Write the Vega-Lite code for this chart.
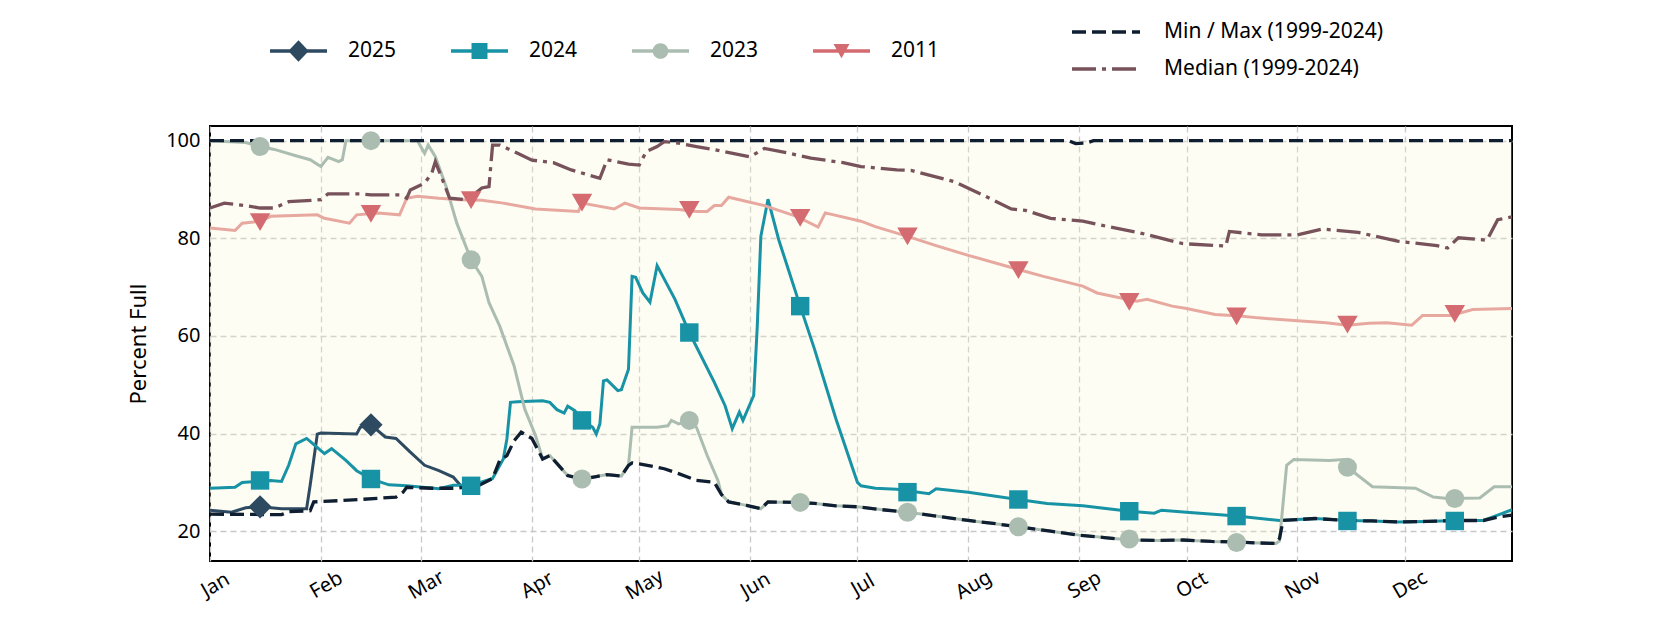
{
  "$schema": "https://vega.github.io/schema/vega-lite/v6.json",
  "width": 1302,
  "height": 435,
  "autosize": {"type": "none"},
  "padding": {"left": 210, "top": 126, "right": 168, "bottom": 69},
  "background": "white",
  "config": {
    "font": "Noto Sans",
    "view": {"stroke": "black", "strokeWidth": 2},
    "axis": {
      "grid": true, "gridColor": "#c8c8c8", "gridDash": [6, 4], "gridWidth": 1.3,
      "domain": false, "ticks": false,
      "labelFont": "Noto Sans", "labelFontSize": 20, "labelColor": "black",
      "titleFont": "Noto Sans", "titleFontSize": 22, "titleFontWeight": "normal", "titleColor": "black"
    },
    "legend": {"labelFont": "Noto Sans", "labelFontSize": 21, "labelColor": "black", "labelLimit": 500, "padding": 0}
  },
  "datasets": {
    "lines": [
      {"series":"2025","date":"2023-01-01","value":24.3},{"series":"2025","date":"2023-01-07","value":23.9},{"series":"2025","date":"2023-01-11","value":24.8},{"series":"2025","date":"2023-01-15","value":25.0},{"series":"2025","date":"2023-01-21","value":24.6},{"series":"2025","date":"2023-01-28","value":24.6},{"series":"2025","date":"2023-01-29","value":29.4},{"series":"2025","date":"2023-01-31","value":39.9},{"series":"2025","date":"2023-02-01","value":40.1},{"series":"2025","date":"2023-02-11","value":39.9},{"series":"2025","date":"2023-02-12","value":41.3},{"series":"2025","date":"2023-02-15","value":41.8},{"series":"2025","date":"2023-02-19","value":39.3},{"series":"2025","date":"2023-02-22","value":39.0},{"series":"2025","date":"2023-02-26","value":36.2},{"series":"2025","date":"2023-03-02","value":33.5},{"series":"2025","date":"2023-03-06","value":32.4},{"series":"2025","date":"2023-03-10","value":31.1},{"series":"2025","date":"2023-03-12","value":29.4},

      {"series":"2024","date":"2023-01-01","value":28.8},{"series":"2024","date":"2023-01-08","value":29.0},{"series":"2024","date":"2023-01-10","value":30.0},{"series":"2024","date":"2023-01-18","value":30.4},{"series":"2024","date":"2023-01-21","value":30.2},{"series":"2024","date":"2023-01-23","value":33.5},{"series":"2024","date":"2023-01-25","value":37.9},{"series":"2024","date":"2023-01-28","value":39.0},{"series":"2024","date":"2023-01-29","value":38.4},{"series":"2024","date":"2023-02-01","value":36.5},{"series":"2024","date":"2023-02-02","value":35.9},{"series":"2024","date":"2023-02-04","value":36.9},{"series":"2024","date":"2023-02-08","value":34.5},{"series":"2024","date":"2023-02-11","value":32.4},{"series":"2024","date":"2023-02-15","value":30.7},{"series":"2024","date":"2023-02-20","value":29.5},{"series":"2024","date":"2023-02-25","value":29.3},{"series":"2024","date":"2023-03-06","value":28.7},{"series":"2024","date":"2023-03-10","value":29.4},{"series":"2024","date":"2023-03-15","value":29.4},{"series":"2024","date":"2023-03-21","value":30.8},{"series":"2024","date":"2023-03-24","value":34.8},{"series":"2024","date":"2023-03-25","value":38.9},{"series":"2024","date":"2023-03-26","value":46.4},{"series":"2024","date":"2023-03-28","value":46.5},{"series":"2024","date":"2023-04-04","value":46.7},{"series":"2024","date":"2023-04-06","value":46.4},{"series":"2024","date":"2023-04-08","value":44.9},{"series":"2024","date":"2023-04-10","value":44.2},{"series":"2024","date":"2023-04-11","value":45.6},{"series":"2024","date":"2023-04-13","value":44.7},{"series":"2024","date":"2023-04-15","value":42.7},{"series":"2024","date":"2023-04-18","value":41.3},{"series":"2024","date":"2023-04-19","value":39.9},{"series":"2024","date":"2023-04-20","value":42.0},{"series":"2024","date":"2023-04-21","value":50.8},{"series":"2024","date":"2023-04-22","value":51.0},{"series":"2024","date":"2023-04-25","value":48.8},{"series":"2024","date":"2023-04-26","value":49.0},{"series":"2024","date":"2023-04-28","value":53.2},{"series":"2024","date":"2023-04-29","value":72.2},{"series":"2024","date":"2023-04-30","value":72.0},{"series":"2024","date":"2023-05-02","value":68.8},{"series":"2024","date":"2023-05-04","value":66.9},{"series":"2024","date":"2023-05-06","value":74.4},{"series":"2024","date":"2023-05-11","value":67.5},{"series":"2024","date":"2023-05-15","value":60.7},{"series":"2024","date":"2023-05-22","value":50.5},{"series":"2024","date":"2023-05-25","value":45.7},{"series":"2024","date":"2023-05-27","value":41.0},{"series":"2024","date":"2023-05-29","value":44.4},{"series":"2024","date":"2023-05-30","value":42.7},{"series":"2024","date":"2023-06-02","value":47.8},{"series":"2024","date":"2023-06-03","value":62.0},{"series":"2024","date":"2023-06-04","value":80.4},{"series":"2024","date":"2023-06-06","value":88.0},{"series":"2024","date":"2023-06-09","value":79.7},{"series":"2024","date":"2023-06-15","value":66.1},{"series":"2024","date":"2023-06-19","value":57.3},{"series":"2024","date":"2023-06-25","value":43.0},{"series":"2024","date":"2023-07-01","value":30.0},{"series":"2024","date":"2023-07-02","value":29.3},{"series":"2024","date":"2023-07-06","value":28.8},{"series":"2024","date":"2023-07-12","value":28.6},{"series":"2024","date":"2023-07-21","value":27.7},{"series":"2024","date":"2023-07-23","value":28.7},{"series":"2024","date":"2023-08-01","value":28.0},{"series":"2024","date":"2023-08-15","value":26.5},{"series":"2024","date":"2023-08-23","value":25.7},{"series":"2024","date":"2023-09-02","value":25.2},{"series":"2024","date":"2023-09-15","value":24.1},{"series":"2024","date":"2023-09-22","value":23.7},{"series":"2024","date":"2023-09-24","value":24.3},{"series":"2024","date":"2023-10-01","value":23.9},{"series":"2024","date":"2023-10-15","value":23.1},{"series":"2024","date":"2023-10-27","value":22.2},{"series":"2024","date":"2023-11-06","value":22.6},{"series":"2024","date":"2023-11-15","value":22.2},{"series":"2024","date":"2023-11-22","value":22.1},{"series":"2024","date":"2023-11-29","value":21.9},{"series":"2024","date":"2023-12-07","value":22.0},{"series":"2024","date":"2023-12-15","value":22.2},{"series":"2024","date":"2023-12-23","value":22.2},{"series":"2024","date":"2023-12-27","value":23.3},{"series":"2024","date":"2023-12-31","value":24.4},

      {"series":"2023","date":"2023-01-01","value":100},{"series":"2023","date":"2023-01-11","value":99.6},{"series":"2023","date":"2023-01-15","value":98.8},{"series":"2023","date":"2023-01-19","value":98.2},{"series":"2023","date":"2023-01-25","value":96.9},{"series":"2023","date":"2023-01-29","value":96.1},{"series":"2023","date":"2023-02-01","value":94.7},{"series":"2023","date":"2023-02-03","value":96.6},{"series":"2023","date":"2023-02-06","value":95.7},{"series":"2023","date":"2023-02-07","value":96.1},{"series":"2023","date":"2023-02-08","value":100},{"series":"2023","date":"2023-02-28","value":100},{"series":"2023","date":"2023-03-02","value":97.4},{"series":"2023","date":"2023-03-03","value":99.1},{"series":"2023","date":"2023-03-05","value":96.7},{"series":"2023","date":"2023-03-08","value":90.6},{"series":"2023","date":"2023-03-11","value":83.1},{"series":"2023","date":"2023-03-15","value":75.6},{"series":"2023","date":"2023-03-18","value":72.2},{"series":"2023","date":"2023-03-20","value":66.8},{"series":"2023","date":"2023-03-23","value":62.0},{"series":"2023","date":"2023-03-27","value":53.9},{"series":"2023","date":"2023-03-30","value":45.0},{"series":"2023","date":"2023-04-02","value":39.6},{"series":"2023","date":"2023-04-04","value":34.8},{"series":"2023","date":"2023-04-06","value":35.5},{"series":"2023","date":"2023-04-11","value":31.4},{"series":"2023","date":"2023-04-15","value":30.7},{"series":"2023","date":"2023-04-19","value":31.2},{"series":"2023","date":"2023-04-22","value":31.6},{"series":"2023","date":"2023-04-26","value":31.3},{"series":"2023","date":"2023-04-28","value":33.5},{"series":"2023","date":"2023-04-29","value":41.3},{"series":"2023","date":"2023-05-06","value":41.3},{"series":"2023","date":"2023-05-09","value":41.6},{"series":"2023","date":"2023-05-10","value":42.7},{"series":"2023","date":"2023-05-12","value":42.0},{"series":"2023","date":"2023-05-15","value":42.7},{"series":"2023","date":"2023-05-17","value":41.3},{"series":"2023","date":"2023-05-20","value":35.5},{"series":"2023","date":"2023-05-23","value":30.4},{"series":"2023","date":"2023-05-24","value":27.5},{"series":"2023","date":"2023-05-26","value":26.0},{"series":"2023","date":"2023-05-31","value":25.3},{"series":"2023","date":"2023-06-04","value":24.6},{"series":"2023","date":"2023-06-06","value":26.0},{"series":"2023","date":"2023-06-14","value":25.9},{"series":"2023","date":"2023-06-19","value":25.7},{"series":"2023","date":"2023-06-25","value":25.2},{"series":"2023","date":"2023-07-01","value":25.0},{"series":"2023","date":"2023-07-08","value":24.4},{"series":"2023","date":"2023-07-15","value":23.9},{"series":"2023","date":"2023-07-23","value":23.1},{"series":"2023","date":"2023-08-01","value":22.2},{"series":"2023","date":"2023-08-08","value":21.6},{"series":"2023","date":"2023-08-15","value":20.9},{"series":"2023","date":"2023-08-24","value":20.0},{"series":"2023","date":"2023-09-01","value":19.2},{"series":"2023","date":"2023-09-08","value":18.7},{"series":"2023","date":"2023-09-15","value":18.2},{"series":"2023","date":"2023-09-23","value":18.1},{"series":"2023","date":"2023-09-30","value":18.2},{"series":"2023","date":"2023-10-08","value":17.9},{"series":"2023","date":"2023-10-15","value":17.8},{"series":"2023","date":"2023-10-21","value":17.6},{"series":"2023","date":"2023-10-26","value":17.5},{"series":"2023","date":"2023-10-27","value":18.0},{"series":"2023","date":"2023-10-29","value":33.5},{"series":"2023","date":"2023-10-31","value":34.7},{"series":"2023","date":"2023-11-10","value":34.5},{"series":"2023","date":"2023-11-14","value":34.7},{"series":"2023","date":"2023-11-15","value":33.1},{"series":"2023","date":"2023-11-22","value":29.1},{"series":"2023","date":"2023-12-04","value":28.8},{"series":"2023","date":"2023-12-09","value":27.0},{"series":"2023","date":"2023-12-13","value":26.7},{"series":"2023","date":"2023-12-22","value":26.8},{"series":"2023","date":"2023-12-26","value":29.1},{"series":"2023","date":"2023-12-31","value":29.1},

      {"series":"2011","date":"2023-01-01","value":82.1},{"series":"2011","date":"2023-01-08","value":81.6},{"series":"2011","date":"2023-01-10","value":83.1},{"series":"2011","date":"2023-01-15","value":83.5},{"series":"2011","date":"2023-01-18","value":84.5},{"series":"2011","date":"2023-01-31","value":84.8},{"series":"2011","date":"2023-02-02","value":84.1},{"series":"2011","date":"2023-02-09","value":83.1},{"series":"2011","date":"2023-02-11","value":84.8},{"series":"2011","date":"2023-02-17","value":85.2},{"series":"2011","date":"2023-02-23","value":84.8},{"series":"2011","date":"2023-02-25","value":88.2},{"series":"2011","date":"2023-02-28","value":88.6},{"series":"2011","date":"2023-03-06","value":88.2},{"series":"2011","date":"2023-03-12","value":87.9},{"series":"2011","date":"2023-03-18","value":87.8},{"series":"2011","date":"2023-03-24","value":87.2},{"series":"2011","date":"2023-04-02","value":86.0},{"series":"2011","date":"2023-04-14","value":85.5},{"series":"2011","date":"2023-04-15","value":87.2},{"series":"2011","date":"2023-04-24","value":86.0},{"series":"2011","date":"2023-04-27","value":87.2},{"series":"2011","date":"2023-05-01","value":86.2},{"series":"2011","date":"2023-05-12","value":85.9},{"series":"2011","date":"2023-05-17","value":85.5},{"series":"2011","date":"2023-05-20","value":85.5},{"series":"2011","date":"2023-05-22","value":86.7},{"series":"2011","date":"2023-05-24","value":86.7},{"series":"2011","date":"2023-05-26","value":88.4},{"series":"2011","date":"2023-06-05","value":86.7},{"series":"2011","date":"2023-06-14","value":84.5},{"series":"2011","date":"2023-06-20","value":82.3},{"series":"2011","date":"2023-06-22","value":85.2},{"series":"2011","date":"2023-07-02","value":83.5},{"series":"2011","date":"2023-07-06","value":82.4},{"series":"2011","date":"2023-07-15","value":80.4},{"series":"2011","date":"2023-07-23","value":78.5},{"series":"2011","date":"2023-08-01","value":76.5},{"series":"2011","date":"2023-08-15","value":73.6},{"series":"2011","date":"2023-08-22","value":72.2},{"series":"2011","date":"2023-09-02","value":70.2},{"series":"2011","date":"2023-09-06","value":68.8},{"series":"2011","date":"2023-09-17","value":67.1},{"series":"2011","date":"2023-09-20","value":67.5},{"series":"2011","date":"2023-09-27","value":66.1},{"series":"2011","date":"2023-10-01","value":65.6},{"series":"2011","date":"2023-10-09","value":64.4},{"series":"2011","date":"2023-10-16","value":64.1},{"series":"2011","date":"2023-10-21","value":63.7},{"series":"2011","date":"2023-11-01","value":63.1},{"series":"2011","date":"2023-11-09","value":62.7},{"series":"2011","date":"2023-11-15","value":62.2},{"series":"2011","date":"2023-11-21","value":62.6},{"series":"2011","date":"2023-11-26","value":62.7},{"series":"2011","date":"2023-12-03","value":62.2},{"series":"2011","date":"2023-12-06","value":64.2},{"series":"2011","date":"2023-12-14","value":64.2},{"series":"2011","date":"2023-12-20","value":65.4},{"series":"2011","date":"2023-12-31","value":65.6},

      {"series":"Min","date":"2023-01-01","value":23.5},{"series":"Min","date":"2023-01-21","value":23.4},{"series":"Min","date":"2023-01-23","value":24.0},{"series":"Min","date":"2023-01-29","value":24.2},{"series":"Min","date":"2023-01-30","value":26.0},{"series":"Min","date":"2023-02-10","value":26.4},{"series":"Min","date":"2023-02-22","value":27.0},{"series":"Min","date":"2023-02-24","value":28.0},{"series":"Min","date":"2023-02-25","value":29.0},{"series":"Min","date":"2023-03-04","value":28.8},{"series":"Min","date":"2023-03-11","value":28.8},{"series":"Min","date":"2023-03-17","value":29.3},{"series":"Min","date":"2023-03-21","value":30.8},{"series":"Min","date":"2023-03-23","value":34.5},{"series":"Min","date":"2023-03-25","value":35.5},{"series":"Min","date":"2023-03-27","value":38.5},{"series":"Min","date":"2023-03-29","value":40.3},{"series":"Min","date":"2023-04-01","value":39.0},{"series":"Min","date":"2023-04-04","value":34.8},{"series":"Min","date":"2023-04-06","value":35.5},{"series":"Min","date":"2023-04-11","value":31.4},{"series":"Min","date":"2023-04-15","value":30.7},{"series":"Min","date":"2023-04-19","value":31.2},{"series":"Min","date":"2023-04-22","value":31.6},{"series":"Min","date":"2023-04-26","value":31.3},{"series":"Min","date":"2023-04-28","value":33.5},{"series":"Min","date":"2023-04-29","value":34.0},{"series":"Min","date":"2023-05-01","value":33.8},{"series":"Min","date":"2023-05-08","value":32.8},{"series":"Min","date":"2023-05-12","value":31.8},{"series":"Min","date":"2023-05-17","value":30.4},{"series":"Min","date":"2023-05-22","value":30.0},{"series":"Min","date":"2023-05-24","value":27.5},{"series":"Min","date":"2023-05-26","value":26.0},{"series":"Min","date":"2023-05-31","value":25.3},{"series":"Min","date":"2023-06-04","value":24.6},{"series":"Min","date":"2023-06-06","value":26.0},{"series":"Min","date":"2023-06-14","value":25.9},{"series":"Min","date":"2023-06-19","value":25.7},{"series":"Min","date":"2023-06-25","value":25.2},{"series":"Min","date":"2023-07-01","value":25.0},{"series":"Min","date":"2023-07-08","value":24.4},{"series":"Min","date":"2023-07-15","value":23.9},{"series":"Min","date":"2023-07-23","value":23.1},{"series":"Min","date":"2023-08-01","value":22.2},{"series":"Min","date":"2023-08-08","value":21.6},{"series":"Min","date":"2023-08-15","value":20.9},{"series":"Min","date":"2023-08-24","value":20.0},{"series":"Min","date":"2023-09-01","value":19.2},{"series":"Min","date":"2023-09-08","value":18.7},{"series":"Min","date":"2023-09-15","value":18.2},{"series":"Min","date":"2023-09-23","value":18.1},{"series":"Min","date":"2023-09-30","value":18.2},{"series":"Min","date":"2023-10-08","value":17.9},{"series":"Min","date":"2023-10-15","value":17.8},{"series":"Min","date":"2023-10-21","value":17.6},{"series":"Min","date":"2023-10-26","value":17.5},{"series":"Min","date":"2023-10-27","value":18.5},{"series":"Min","date":"2023-10-28","value":22.2},{"series":"Min","date":"2023-11-06","value":22.6},{"series":"Min","date":"2023-11-15","value":22.2},{"series":"Min","date":"2023-11-22","value":22.1},{"series":"Min","date":"2023-11-29","value":21.9},{"series":"Min","date":"2023-12-07","value":22.0},{"series":"Min","date":"2023-12-15","value":22.2},{"series":"Min","date":"2023-12-23","value":22.2},{"series":"Min","date":"2023-12-27","value":22.9},{"series":"Min","date":"2023-12-31","value":23.3},

      {"series":"Max","date":"2023-01-01","value":100},{"series":"Max","date":"2023-08-29","value":100},{"series":"Max","date":"2023-08-31","value":99.4},{"series":"Max","date":"2023-09-03","value":99.5},{"series":"Max","date":"2023-09-05","value":100},{"series":"Max","date":"2023-12-31","value":100},

      {"series":"Median","date":"2023-01-01","value":86.2},{"series":"Median","date":"2023-01-05","value":87.2},{"series":"Median","date":"2023-01-11","value":86.7},{"series":"Median","date":"2023-01-15","value":86.2},{"series":"Median","date":"2023-01-19","value":86.2},{"series":"Median","date":"2023-01-23","value":87.5},{"series":"Median","date":"2023-02-01","value":87.9},{"series":"Median","date":"2023-02-03","value":89.1},{"series":"Median","date":"2023-02-12","value":89.1},{"series":"Median","date":"2023-02-15","value":88.9},{"series":"Median","date":"2023-02-23","value":88.9},{"series":"Median","date":"2023-02-25","value":88.2},{"series":"Median","date":"2023-02-26","value":89.9},{"series":"Median","date":"2023-03-02","value":91.3},{"series":"Median","date":"2023-03-04","value":93.3},{"series":"Median","date":"2023-03-05","value":95.7},{"series":"Median","date":"2023-03-07","value":92.0},{"series":"Median","date":"2023-03-09","value":88.2},{"series":"Median","date":"2023-03-14","value":87.9},{"series":"Median","date":"2023-03-18","value":90.3},{"series":"Median","date":"2023-03-20","value":90.6},{"series":"Median","date":"2023-03-21","value":99.1},{"series":"Median","date":"2023-03-23","value":99.1},{"series":"Median","date":"2023-03-28","value":97.4},{"series":"Median","date":"2023-04-01","value":96.0},{"series":"Median","date":"2023-04-07","value":95.5},{"series":"Median","date":"2023-04-12","value":94.0},{"series":"Median","date":"2023-04-20","value":92.3},{"series":"Median","date":"2023-04-22","value":96.1},{"series":"Median","date":"2023-04-28","value":95.2},{"series":"Median","date":"2023-05-01","value":95.0},{"series":"Median","date":"2023-05-03","value":97.8},{"series":"Median","date":"2023-05-06","value":98.8},{"series":"Median","date":"2023-05-08","value":99.8},{"series":"Median","date":"2023-05-12","value":99.5},{"series":"Median","date":"2023-05-17","value":98.8},{"series":"Median","date":"2023-05-23","value":98.0},{"series":"Median","date":"2023-06-01","value":96.7},{"series":"Median","date":"2023-06-05","value":98.4},{"series":"Median","date":"2023-06-12","value":97.4},{"series":"Median","date":"2023-06-18","value":96.4},{"series":"Median","date":"2023-06-27","value":95.5},{"series":"Median","date":"2023-07-02","value":94.7},{"series":"Median","date":"2023-07-12","value":94.0},{"series":"Median","date":"2023-07-16","value":93.9},{"series":"Median","date":"2023-07-28","value":91.6},{"series":"Median","date":"2023-08-05","value":88.9},{"series":"Median","date":"2023-08-13","value":86.0},{"series":"Median","date":"2023-08-17","value":85.7},{"series":"Median","date":"2023-08-24","value":84.1},{"series":"Median","date":"2023-09-02","value":83.5},{"series":"Median","date":"2023-09-09","value":82.4},{"series":"Median","date":"2023-09-18","value":81.1},{"series":"Median","date":"2023-09-30","value":78.9},{"series":"Median","date":"2023-10-12","value":78.4},{"series":"Median","date":"2023-10-13","value":81.4},{"series":"Median","date":"2023-10-22","value":80.7},{"series":"Median","date":"2023-11-01","value":80.7},{"series":"Median","date":"2023-11-08","value":81.9},{"series":"Median","date":"2023-11-18","value":81.2},{"series":"Median","date":"2023-11-29","value":79.4},{"series":"Median","date":"2023-12-10","value":78.5},{"series":"Median","date":"2023-12-13","value":78.0},{"series":"Median","date":"2023-12-16","value":80.1},{"series":"Median","date":"2023-12-24","value":79.6},{"series":"Median","date":"2023-12-27","value":83.8},{"series":"Median","date":"2023-12-31","value":84.4}
    ],
    "markers": [
      {"series":"2025","date":"2023-01-15","value":25.0},{"series":"2025","date":"2023-02-15","value":41.8},
      {"series":"2024","date":"2023-01-15","value":30.4},{"series":"2024","date":"2023-02-15","value":30.7},{"series":"2024","date":"2023-03-15","value":29.3},{"series":"2024","date":"2023-04-15","value":42.7},{"series":"2024","date":"2023-05-15","value":60.7},{"series":"2024","date":"2023-06-15","value":66.1},{"series":"2024","date":"2023-07-15","value":28.0},{"series":"2024","date":"2023-08-15","value":26.5},{"series":"2024","date":"2023-09-15","value":24.1},{"series":"2024","date":"2023-10-15","value":23.1},{"series":"2024","date":"2023-11-15","value":22.1},{"series":"2024","date":"2023-12-15","value":22.1},
      {"series":"2023","date":"2023-01-15","value":98.8},{"series":"2023","date":"2023-02-15","value":100},{"series":"2023","date":"2023-03-15","value":75.6},{"series":"2023","date":"2023-04-15","value":30.7},{"series":"2023","date":"2023-05-15","value":42.7},{"series":"2023","date":"2023-06-15","value":25.9},{"series":"2023","date":"2023-07-15","value":23.9},{"series":"2023","date":"2023-08-15","value":20.9},{"series":"2023","date":"2023-09-15","value":18.4},{"series":"2023","date":"2023-10-15","value":17.7},{"series":"2023","date":"2023-11-15","value":33.1},{"series":"2023","date":"2023-12-15","value":26.7},
      {"series":"2011","date":"2023-01-15","value":83.3},{"series":"2011","date":"2023-02-15","value":85.0},{"series":"2011","date":"2023-03-15","value":87.8},{"series":"2011","date":"2023-04-15","value":87.3},{"series":"2011","date":"2023-05-15","value":85.8},{"series":"2011","date":"2023-06-15","value":84.2},{"series":"2011","date":"2023-07-15","value":80.4},{"series":"2011","date":"2023-08-15","value":73.5},{"series":"2011","date":"2023-09-15","value":67.0},{"series":"2011","date":"2023-10-15","value":64.0},{"series":"2011","date":"2023-11-15","value":62.3},{"series":"2011","date":"2023-12-15","value":64.5}
    ]
  },
  "encoding": {
    "x": {
      "field": "date", "type": "temporal", "title": null,
      "scale": {"type": "utc", "domain": [{"year": 2023, "month": 1, "date": 1, "utc": true}, {"year": 2023, "month": 12, "date": 31, "utc": true}]},
      "axis": {
        "values": [
          {"year": 2023, "month": 1, "date": 1, "utc": true}, {"year": 2023, "month": 2, "date": 1, "utc": true},
          {"year": 2023, "month": 3, "date": 1, "utc": true}, {"year": 2023, "month": 4, "date": 1, "utc": true},
          {"year": 2023, "month": 5, "date": 1, "utc": true}, {"year": 2023, "month": 6, "date": 1, "utc": true},
          {"year": 2023, "month": 7, "date": 1, "utc": true}, {"year": 2023, "month": 8, "date": 1, "utc": true},
          {"year": 2023, "month": 9, "date": 1, "utc": true}, {"year": 2023, "month": 10, "date": 1, "utc": true},
          {"year": 2023, "month": 11, "date": 1, "utc": true}, {"year": 2023, "month": 12, "date": 1, "utc": true}
        ],
        "labelExpr": "utcFormat(datum.value, '%b')",
        "labelAngle": -30, "labelAlign": "center", "labelBaseline": "top", "labelPadding": 15
      }
    },
    "y": {
      "field": "value", "type": "quantitative", "title": "Percent Full",
      "scale": {"domain": [13.9, 103], "nice": false, "zero": false},
      "axis": {"values": [20, 40, 60, 80, 100], "labelPadding": 10, "titlePadding": 15}
    }
  },
  "layer": [
    {
      "data": {"name": "lines"},
      "transform": [{"filter": "datum.series === 'Min'"}],
      "mark": {"type": "area", "color": "#f7f7cf", "opacity": 0.25},
      "encoding": {"y2": {"datum": 100}}
    },
    {
      "data": {"name": "lines"},
      "transform": [{"filter": {"field": "series", "oneOf": ["2025", "2024", "2023", "2011"]}}],
      "mark": {"type": "line", "strokeWidth": 3},
      "encoding": {
        "stroke": {"field": "series", "type": "nominal", "legend": null,
          "scale": {"domain": ["2025", "2024", "2023", "2011"], "range": ["#2d4a61", "#1893a6", "#abbdb1", "#e7a8a0"]}}
      }
    },
    {
      "data": {"name": "lines"},
      "transform": [{"filter": {"field": "series", "oneOf": ["Min", "Max", "Median"]}}],
      "mark": {"type": "line", "strokeWidth": 3.3},
      "encoding": {
        "stroke": {"field": "series", "type": "nominal",
          "scale": {"domain": ["Min", "Max", "Median"], "range": ["#0f1e31", "#0f1e31", "#77525a"]},
          "legend": {"orient": "none", "legendX": 860, "legendY": -109, "title": null, "direction": "vertical",
            "values": ["Min", "Median"],
            "labelExpr": "datum.value === 'Min' ? 'Min / Max (1999-2024)' : 'Median (1999-2024)'",
            "symbolType": "stroke", "symbolSize": 4624, "symbolStrokeWidth": 3.3, "clipHeight": 30, "rowPadding": 7, "labelOffset": 22}},
        "strokeDash": {"field": "series", "type": "nominal",
          "scale": {"domain": ["Min", "Max", "Median"], "range": [[14, 6], [14, 6], [24, 6, 4, 6]]},
          "legend": {"orient": "none", "legendX": 860, "legendY": -109, "title": null, "direction": "vertical",
            "values": ["Min", "Median"],
            "labelExpr": "datum.value === 'Min' ? 'Min / Max (1999-2024)' : 'Median (1999-2024)'",
            "symbolType": "stroke", "symbolSize": 4624, "symbolStrokeWidth": 3.3, "clipHeight": 30, "rowPadding": 7, "labelOffset": 22}}
      }
    },
    {
      "data": {"name": "markers"},
      "transform": [{"filter": "datum.series === '2025'"}],
      "mark": {"type": "point", "shape": "diamond", "filled": true, "size": 540, "color": "#2d4a61", "opacity": 1, "strokeWidth": 0}
    },
    {
      "data": {"name": "markers"},
      "transform": [{"filter": "datum.series === '2024'"}],
      "mark": {"type": "point", "shape": "square", "filled": true, "size": 340, "color": "#1893a6", "opacity": 1, "strokeWidth": 0}
    },
    {
      "data": {"name": "markers"},
      "transform": [{"filter": "datum.series === '2023'"}],
      "mark": {"type": "point", "shape": "circle", "filled": true, "size": 360, "color": "#abbdb1", "opacity": 1, "strokeWidth": 0}
    },
    {
      "data": {"name": "markers"},
      "transform": [{"filter": "datum.series === '2011'"}],
      "mark": {"type": "point", "shape": "triangle-down", "filled": true, "size": 420, "color": "#d46b70", "opacity": 1, "strokeWidth": 0}
    },
    {
      "data": {"name": "markers"},
      "transform": [{"filter": "false"}],
      "mark": {"type": "point", "filled": true, "opacity": 1, "strokeWidth": 0},
      "encoding": {
        "fill": {"field": "series", "type": "nominal",
          "scale": {"domain": ["2025", "2024", "2023", "2011"], "range": ["#2d4a61", "#1893a6", "#abbdb1", "#d46b70"]},
          "legend": {"orient": "none", "legendX": 60, "legendY": -90, "title": null, "direction": "horizontal", "columns": 4,
            "symbolSize": 3249, "symbolStrokeWidth": 0, "clipHeight": 30, "labelOffset": 21, "columnPadding": 54}},
        "shape": {"field": "series", "type": "nominal",
          "scale": {"domain": ["2025", "2024", "2023", "2011"], "range": [
            "M-1,-0.06L1,-0.06L1,0.06L-1,0.06ZM0,-0.38L0.36,0L0,0.38L-0.36,0Z",
            "M-1,-0.06L1,-0.06L1,0.06L-1,0.06ZM-0.28,-0.28L0.28,-0.28L0.28,0.28L-0.28,0.28Z",
            "M-1,-0.06L1,-0.06L1,0.06L-1,0.06ZM-0.275,0A0.275,0.275,0,1,1,0.275,0A0.275,0.275,0,1,1,-0.275,0Z",
            "M-1,-0.06L1,-0.06L1,0.06L-1,0.06ZM-0.28,-0.25L0.28,-0.25L0,0.25Z"]},
          "legend": {"orient": "none", "legendX": 60, "legendY": -90, "title": null, "direction": "horizontal", "columns": 4,
            "symbolSize": 3249, "symbolStrokeWidth": 0, "clipHeight": 30, "labelOffset": 21, "columnPadding": 54}}
      }
    }
  ],
  "resolve": {"scale": {"stroke": "independent", "strokeDash": "independent", "fill": "independent", "shape": "independent"}}
}
